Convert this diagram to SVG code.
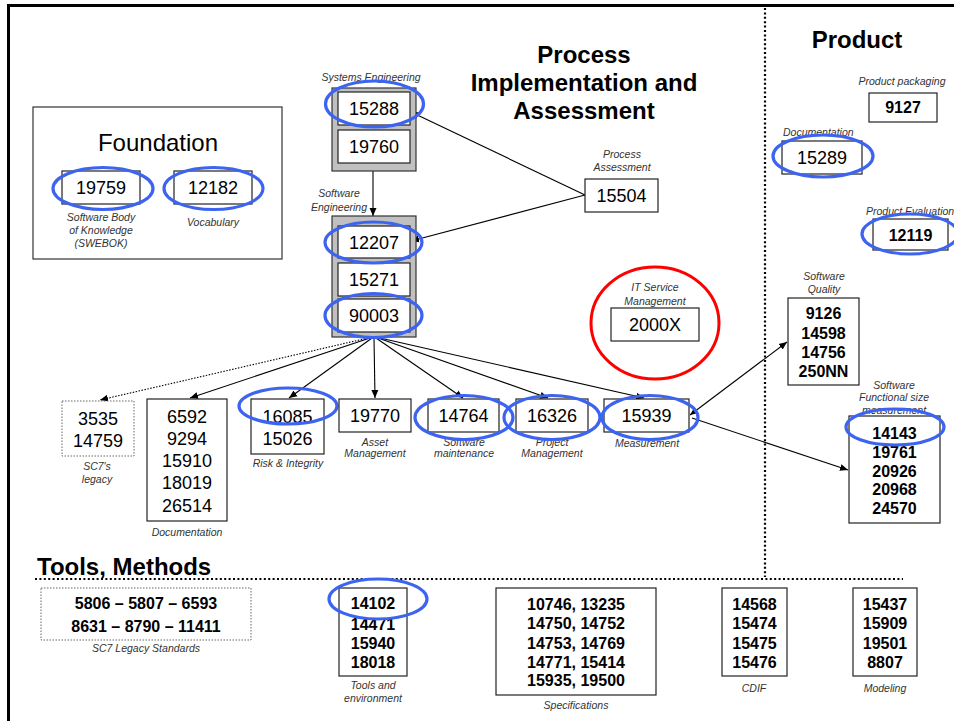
<svg xmlns="http://www.w3.org/2000/svg" width="954" height="721" viewBox="0 0 954 721">
<defs>
<marker id="ah" viewBox="0 0 8 8" refX="8" refY="4" markerWidth="8" markerHeight="8" markerUnits="userSpaceOnUse" orient="auto-start-reverse"><path d="M0,0.5 L8,4 L0,7.5 z" fill="#000"/></marker>
<style>
.box{fill:#fff;stroke:#222;stroke-width:1.2}
.grp{fill:#c0c0c0;stroke:#333;stroke-width:1.2}
.dbox{fill:#fff;stroke:#666;stroke-width:1;stroke-dasharray:1.5 1.5}
.n{font-family:"Liberation Sans",Arial,sans-serif;font-size:18px;fill:#000;text-anchor:middle}
.b{font-family:"Liberation Sans",Arial,sans-serif;font-size:16px;font-weight:bold;fill:#000;text-anchor:middle}
.l{font-family:"Liberation Sans",Arial,sans-serif;font-size:10.5px;font-style:italic;fill:#333;text-anchor:middle}
.t{font-family:"Liberation Sans",Arial,sans-serif;font-size:24px;font-weight:bold;fill:#000;text-anchor:middle}
.ring{fill:none;stroke:#3c64f0;stroke-width:3.2}
.c{fill:none;stroke:#000;stroke-width:1.1}
.dot{fill:none;stroke:#000;stroke-width:2.2;stroke-dasharray:2 2.4}
</style>
</defs>
<rect width="954" height="721" fill="#fff"/>
<path d="M8.5,721 V5.5 H954" fill="none" stroke="#000" stroke-width="3"/>
<line class="dot" x1="765" y1="8" x2="765" y2="577"/>
<line class="dot" x1="35" y1="579" x2="903" y2="579"/>

<text class="t" x="584" y="63">Process</text>
<text class="t" x="584" y="91">Implementation and</text>
<text class="t" x="584" y="119">Assessment</text>
<text class="t" x="857" y="48">Product</text>
<text class="t" x="37" y="575" style="text-anchor:start">Tools, Methods</text>

<g id="connectors">
<line class="c" x1="373" y1="171" x2="373" y2="216" marker-end="url(#ah)"/>
<line class="c" x1="585" y1="195" x2="411" y2="112" marker-end="url(#ah)"/>
<line class="c" x1="585" y1="195" x2="411" y2="241" marker-end="url(#ah)"/>
<line class="c" x1="368" y1="338" x2="100" y2="400" stroke-dasharray="1.5 1.5" stroke-width="1" marker-end="url(#ah)"/>
<line class="c" x1="370" y1="338" x2="190" y2="398" marker-end="url(#ah)"/>
<line class="c" x1="372" y1="338" x2="289" y2="398" marker-end="url(#ah)"/>
<line class="c" x1="374" y1="338" x2="375" y2="398" marker-end="url(#ah)"/>
<line class="c" x1="376" y1="338" x2="463" y2="398" marker-end="url(#ah)"/>
<line class="c" x1="378" y1="338" x2="548" y2="398" marker-end="url(#ah)"/>
<line class="c" x1="380" y1="338" x2="644" y2="398" marker-end="url(#ah)"/>
<line class="c" x1="690" y1="415" x2="787" y2="342" marker-start="url(#ah)" marker-end="url(#ah)"/>
<line class="c" x1="692" y1="418" x2="848" y2="470" marker-end="url(#ah)"/>
</g>

<g id="foundation">
<rect x="33" y="107" width="249" height="152" fill="#fff" stroke="#333" stroke-width="1.2"/>
<text x="158" y="151" style="font-family:'Liberation Sans',Arial,sans-serif;font-size:24px;text-anchor:middle">Foundation</text>
</g>
<g id="n19759">
<rect class="box" x="62" y="171" width="78" height="33"/>
<text class="n" x="101" y="194">19759</text>
<ellipse class="ring" cx="103" cy="188.5" rx="50" ry="21"/>
<text class="l" x="101" y="221">Software Body</text>
<text class="l" x="101" y="234">of Knowledge</text>
<text class="l" x="101" y="247">(SWEBOK)</text>
</g>
<g id="n12182">
<rect class="box" x="174" y="171" width="78" height="33"/>
<text class="n" x="213" y="194">12182</text>
<ellipse class="ring" cx="213.5" cy="188.5" rx="49.5" ry="21"/>
<text class="l" x="213" y="226">Vocabulary</text>
</g>

<g id="systems-engineering">
<text class="l" x="371" y="81">Systems Engineering</text>
<rect class="grp" x="332" y="88" width="84" height="83"/>
<rect class="box" x="338" y="92" width="72" height="33"/>
<text class="n" x="374" y="115">15288</text>
<rect class="box" x="338" y="130" width="72" height="33"/>
<text class="n" x="374" y="153">19760</text>
<ellipse class="ring" cx="374.5" cy="104" rx="49" ry="23"/>
</g>

<g id="software-engineering">
<text class="l" x="339" y="197">Software</text>
<text class="l" x="339" y="211">Engineering</text>
<rect class="grp" x="332" y="216" width="84" height="121"/>
<rect class="box" x="338" y="226" width="72" height="32"/>
<text class="n" x="374" y="248.5">12207</text>
<rect class="box" x="338" y="263" width="72" height="33"/>
<text class="n" x="374" y="286">15271</text>
<rect class="box" x="338" y="299" width="72" height="33"/>
<text class="n" x="374" y="322">90003</text>
<ellipse class="ring" cx="373.5" cy="242.5" rx="48.5" ry="20.5"/>
<ellipse class="ring" cx="373.5" cy="315.5" rx="48.5" ry="22"/>
</g>

<g id="n15504">
<text class="l" x="622" y="158">Process</text>
<text class="l" x="622" y="171">Assessment</text>
<rect class="box" x="585" y="179" width="73" height="33"/>
<text class="n" x="621.5" y="202">15504</text>
</g>

<g id="n2000X">
<ellipse cx="655" cy="323" rx="64" ry="56" fill="none" stroke="#f00" stroke-width="3"/>
<text class="l" x="655" y="291">IT Service</text>
<text class="l" x="655" y="305">Management</text>
<rect class="box" x="611" y="308" width="88" height="33"/>
<text class="n" x="655" y="331">2000X</text>
</g>

<g id="n3535">
<rect class="dbox" x="62" y="401" width="72" height="55"/>
<text class="n" x="98" y="425">3535</text>
<text class="n" x="98" y="447">14759</text>
<text class="l" x="97" y="470">SC7's</text>
<text class="l" x="97" y="483">legacy</text>
</g>

<g id="documentation">
<rect class="box" x="147" y="399" width="80" height="122"/>
<text class="n" x="187" y="423">6592</text>
<text class="n" x="187" y="445">9294</text>
<text class="n" x="187" y="467">15910</text>
<text class="n" x="187" y="489">18019</text>
<text class="n" x="187" y="512">26514</text>
<text class="l" x="187" y="536">Documentation</text>
</g>

<g id="risk">
<rect class="box" x="251" y="399" width="73" height="55"/>
<text class="n" x="287.5" y="423">16085</text>
<text class="n" x="287.5" y="445">15026</text>
<ellipse class="ring" cx="288" cy="406" rx="49" ry="18"/>
<text class="l" x="288" y="467">Risk &amp; Integrity</text>
</g>

<g id="n19770">
<rect class="box" x="339" y="399" width="72" height="33"/>
<text class="n" x="375" y="422">19770</text>
<text class="l" x="375" y="446">Asset</text>
<text class="l" x="375" y="457">Management</text>
</g>

<g id="n14764">
<rect class="box" x="428" y="399" width="71" height="33"/>
<text class="n" x="463.5" y="422">14764</text>
<text class="l" x="464" y="446">Software</text>
<text class="l" x="464" y="457">maintenance</text>
<ellipse class="ring" cx="464" cy="417.5" rx="49" ry="22"/>
</g>

<g id="n16326">
<rect class="box" x="516" y="399" width="72" height="33"/>
<text class="n" x="552" y="422">16326</text>
<text class="l" x="552" y="446">Project</text>
<text class="l" x="552" y="457">Management</text>
<ellipse class="ring" cx="552" cy="417.5" rx="48" ry="22"/>
</g>

<g id="n15939">
<rect class="box" x="604" y="399" width="85" height="33"/>
<text class="n" x="646.5" y="422">15939</text>
<text class="l" x="647" y="447">Measurement</text>
<ellipse class="ring" cx="650" cy="417.5" rx="48" ry="22"/>
</g>

<g id="n9127">
<text class="l" x="902" y="85">Product packaging</text>
<rect class="box" x="869" y="93" width="68" height="29"/>
<text class="b" x="903" y="113">9127</text>
</g>

<g id="n15289">
<text class="l" x="783" y="136" style="text-anchor:start">Documentation</text>
<rect class="box" x="782" y="141" width="80" height="33"/>
<text class="n" x="822" y="164">15289</text>
<ellipse class="ring" cx="823" cy="156" rx="50" ry="21"/>
</g>

<g id="n12119">
<text class="l" x="866" y="215" style="text-anchor:start">Product Evaluation</text>
<rect class="box" x="873" y="219" width="75" height="31"/>
<text class="b" x="910.5" y="240.5">12119</text>
<ellipse class="ring" cx="910" cy="234" rx="48" ry="20"/>
</g>

<g id="software-quality">
<text class="l" x="824" y="280">Software</text>
<text class="l" x="824" y="293">Quality</text>
<rect class="box" x="788" y="298" width="71" height="87"/>
<text class="b" x="823.5" y="319">9126</text>
<text class="b" x="823.5" y="339">14598</text>
<text class="b" x="823.5" y="358">14756</text>
<text class="b" x="823.5" y="377">250NN</text>
</g>

<g id="functional-size">
<text class="l" x="894" y="389">Software</text>
<text class="l" x="894" y="401">Functional size</text>
<text class="l" x="894" y="414">measurement</text>
<rect class="box" x="849" y="416" width="91" height="107"/>
<text class="b" x="894.5" y="439">14143</text>
<text class="b" x="894.5" y="458">19761</text>
<text class="b" x="894.5" y="477">20926</text>
<text class="b" x="894.5" y="495">20968</text>
<text class="b" x="894.5" y="514">24570</text>
<ellipse class="ring" cx="895" cy="427" rx="49" ry="18"/>
</g>

<g id="sc7-legacy">
<rect class="dbox" x="41" y="588" width="210" height="52"/>
<text class="b" x="146" y="609">5806 – 5807 – 6593</text>
<text class="b" x="146" y="632">8631 – 8790 – 11411</text>
<text class="l" x="146" y="652">SC7 Legacy Standards</text>
</g>

<g id="tools">
<rect class="box" x="339" y="588" width="68" height="88"/>
<text class="b" x="373" y="609">14102</text>
<text class="b" x="373" y="630">14471</text>
<text class="b" x="373" y="649">15940</text>
<text class="b" x="373" y="668">18018</text>
<ellipse class="ring" cx="378" cy="599" rx="49" ry="20"/>
<text class="l" x="373" y="689">Tools and</text>
<text class="l" x="373" y="702">environment</text>
</g>

<g id="specifications">
<rect class="box" x="496" y="588" width="160" height="107"/>
<text class="b" x="576" y="610">10746, 13235</text>
<text class="b" x="576" y="629">14750, 14752</text>
<text class="b" x="576" y="649">14753, 14769</text>
<text class="b" x="576" y="668">14771, 15414</text>
<text class="b" x="576" y="686">15935, 19500</text>
<text class="l" x="576" y="709">Specifications</text>
</g>

<g id="cdif">
<rect class="box" x="722" y="588" width="65" height="88"/>
<text class="b" x="754.5" y="610">14568</text>
<text class="b" x="754.5" y="629">15474</text>
<text class="b" x="754.5" y="649">15475</text>
<text class="b" x="754.5" y="668">15476</text>
<text class="l" x="754" y="692">CDIF</text>
</g>

<g id="modeling">
<rect class="box" x="853" y="588" width="64" height="88"/>
<text class="b" x="885" y="610">15437</text>
<text class="b" x="885" y="629">15909</text>
<text class="b" x="885" y="649">19501</text>
<text class="b" x="885" y="668">8807</text>
<text class="l" x="885" y="692">Modeling</text>
</g>
</svg>
